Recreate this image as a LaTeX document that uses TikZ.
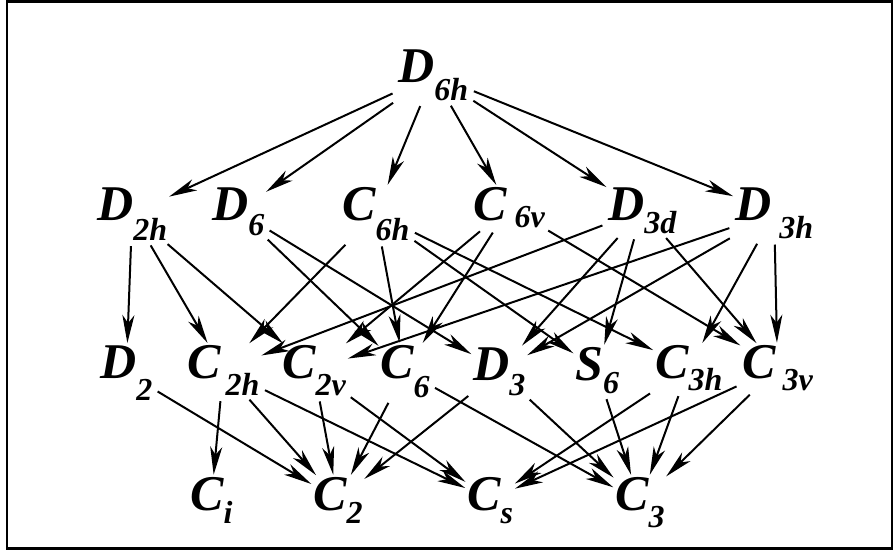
\documentclass[tikz,border=0pt]{standalone}
\usepackage{fontspec}
\setmainfont{Liberation Serif}
\usetikzlibrary{arrows.meta}
% letter, subscript, drop of the subscript, optional gap
\newcommand{\grp}[4][0]{#2\kern#1pt\raisebox{-#4pt}{\fontsize{32}{32}\selectfont #3}}

\begin{document}
\begin{tikzpicture}[x=1pt, y=-1pt,
    grp/.style={anchor=base west, inner sep=0pt, font=\fontsize{50}{50}\selectfont\bfseries\itshape},
    arr/.style={-{Stealth[length=28pt, width=12pt, inset=8pt]}, line width=2pt, shorten <=6pt, shorten >=2pt}]
    \useasboundingbox (0,0) rectangle (894,550);
    \draw[line width=2.5pt] (7,1.5) rectangle (892,548.5);

    % top
    \node[grp] (D6h) at (398,82) {\grp{D}{6h}{18}};
    % second row
    \node[grp] (D2h) at (97,220) {\grp{D}{2h}{20}};
    \node[grp] (D6) at (212,220) {\grp{D}{6}{15}};
    \node[grp] (C6h) at (342,220) {\grp{C}{6h}{20}};
    \node[grp] (C6v) at (473,220) {\grp[8]{C}{6v}{7}};
    \node[grp] (D3d) at (608,220) {\grp{D}{3d}{13}};
    \node[grp] (D3h) at (735,220) {\grp[8]{D}{3h}{18}};
    % third row
    \node[grp] (D2) at (100,378) {\grp{D}{2}{22}};
    \node[grp] (C2h) at (187,378) {\grp[5]{C}{2h}{17}};
    \node[grp] (C2v) at (282,378) {\grp{C}{2v}{17}};
    \node[grp] (C6) at (380,378) {\grp{C}{6}{19}};
    \node[grp] (D3) at (473,380) {\grp{D}{3}{15}};
    \node[grp] (S6) at (575,380) {\grp{S}{6}{13}};
    \node[grp] (C3h) at (655,378) {\grp{C}{3h}{12}};
    \node[grp] (C3v) at (742,378) {\grp[7]{C}{3v}{12}};
    % bottom row
    \node[grp] (Ci) at (190,510) {\grp{C}{i}{13}};
    \node[grp] (C2) at (313,510) {\grp{C}{2}{13}};
    \node[grp] (Cs) at (467,510) {\grp{C}{s}{13}};
    \node[grp] (C3) at (615,510) {\grp{C}{3}{17}};

    % subgroup arrows
    \foreach \a/\b in {D6h/D2h, D6h/D6, D6h/C6h, D6h/C6v, D6h/D3d, D6h/D3h,
        D2h/D2, D2h/C2h, D2h/C2v, D6/C6, D6/D3,
        C6h/C2h, C6h/C6, C6h/S6, C6h/C3h, C6v/C2v, C6v/C6, C6v/C3v,
        D3d/C2h, D3d/D3, D3d/S6, D3d/C3v, D3h/C2v, D3h/D3, D3h/C3h, D3h/C3v,
        D2/C2, C2h/Ci, C2h/C2, C2h/Cs, C2v/C2, C2v/Cs, C6/C2, C6/C3,
        D3/C2, D3/C3, S6/C3, C3h/Cs, C3h/C3, C3v/Cs, C3v/C3}
        \draw[arr] (\a) -- (\b);
\end{tikzpicture}
\end{document}
